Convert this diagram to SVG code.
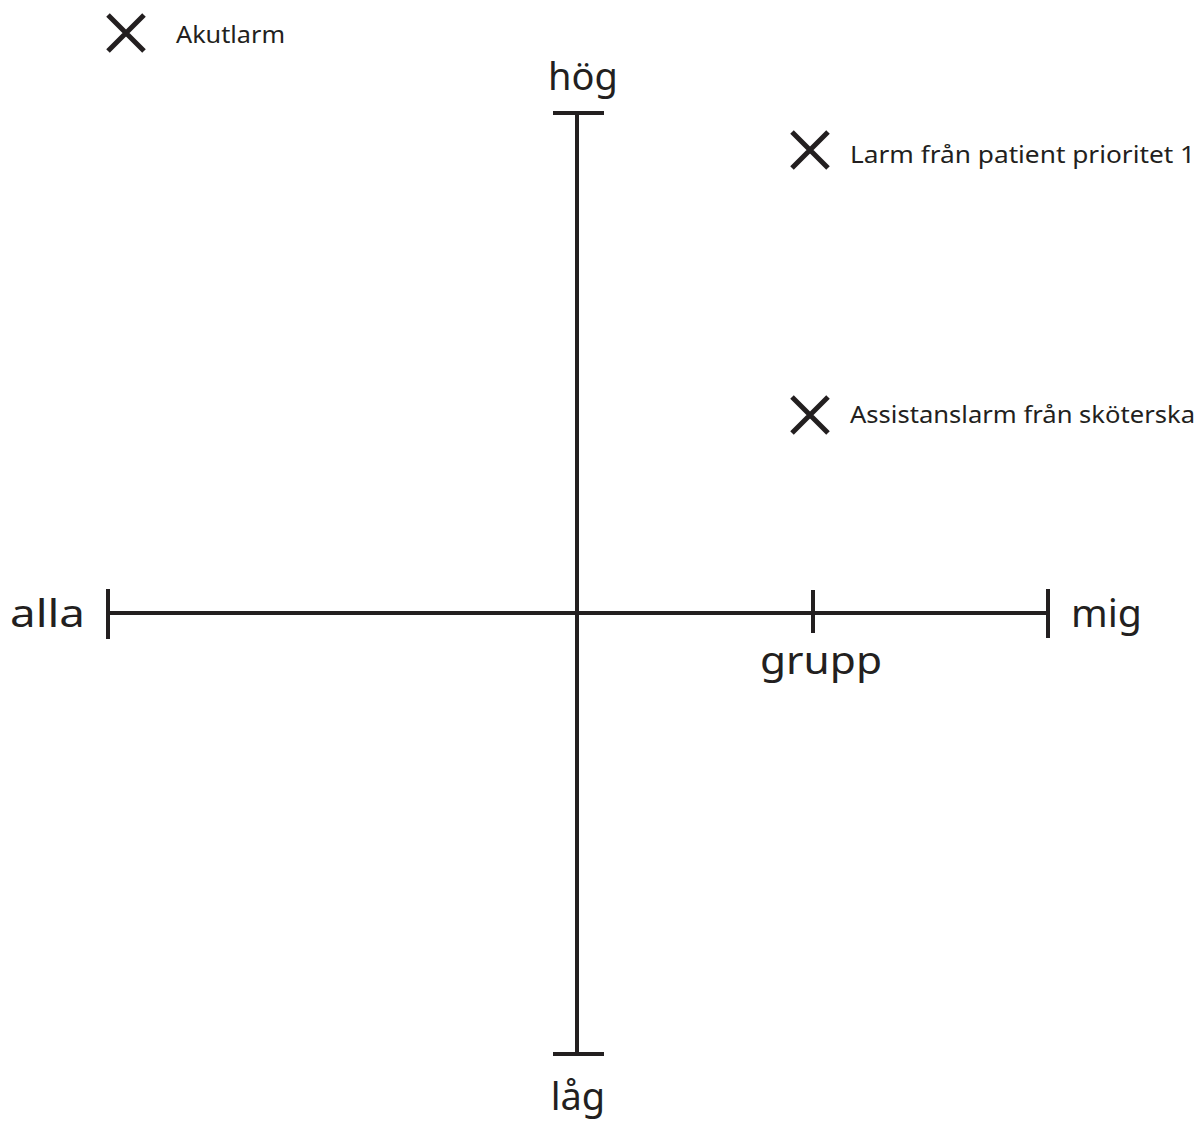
<svg xmlns="http://www.w3.org/2000/svg" width="1203" height="1124" viewBox="0 0 1203 1124">
<style>
.ax{stroke:#231f20;stroke-width:4;fill:none}
.x{stroke:#231f20;stroke-width:5;fill:none}
.big{font-family:"Noto Sans","DejaVu Sans",sans-serif;font-size:38px;fill:#231f20}
.sm{font-family:"Noto Sans","DejaVu Sans",sans-serif;font-size:24px;fill:#231f20}
</style>
<rect width="1203" height="1124" fill="#fff"/>
<g id="axes" class="ax">
<line x1="577" y1="113" x2="577" y2="1054"/>
<line x1="553" y1="113" x2="604" y2="113"/>
<line x1="553" y1="1054" x2="604" y2="1054"/>
<line x1="108" y1="613" x2="1048" y2="613"/>
<line x1="108" y1="589" x2="108" y2="639"/>
<line x1="1048" y1="589" x2="1048" y2="638"/>
<line x1="813" y1="590" x2="813" y2="633"/>
</g>
<g id="axis-labels">
<text class="big" x="583" y="90" text-anchor="middle">hög</text>
<text class="big" x="578" y="1110" text-anchor="middle">låg</text>
<text class="big" x="10" y="627" textLength="75" lengthAdjust="spacingAndGlyphs">alla</text>
<text class="big" x="1071" y="627" textLength="71" lengthAdjust="spacingAndGlyphs">mig</text>
<text class="big" x="760" y="674" textLength="122" lengthAdjust="spacingAndGlyphs">grupp</text>
</g>
<g id="akutlarm">
<path class="x" d="M108,15 L144,51 M144,15 L108,51"/>
<text class="sm" x="176" y="43" textLength="109" lengthAdjust="spacingAndGlyphs">Akutlarm</text>
</g>
<g id="larm-patient">
<path class="x" d="M792,132 L828,168 M828,132 L792,168"/>
<text class="sm" x="850" y="163" textLength="345" lengthAdjust="spacingAndGlyphs">Larm från patient prioritet 1</text>
</g>
<g id="assistanslarm">
<path class="x" d="M792,397 L828,433 M828,397 L792,433"/>
<text class="sm" x="850" y="423" textLength="345" lengthAdjust="spacingAndGlyphs">Assistanslarm från sköterska</text>
</g>
</svg>
